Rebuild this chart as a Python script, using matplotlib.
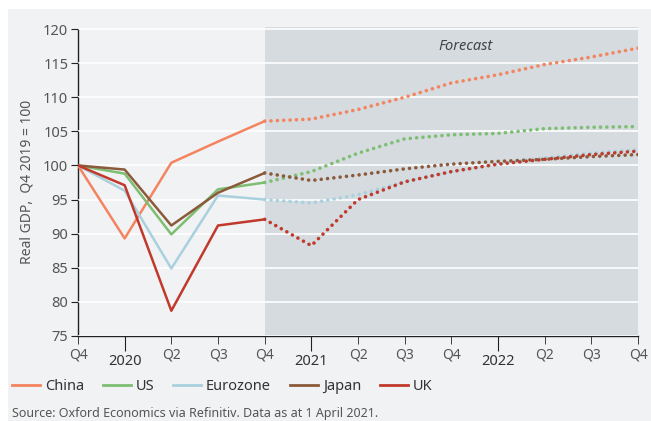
import numpy as np
import matplotlib.pyplot as plt
from matplotlib.patches import Rectangle
from matplotlib.lines import Line2D

plt.rcParams['font.family'] = ['Noto Sans', 'DejaVu Sans']

# trimestres de Q4 2019 a Q4 2022
trimestres = ['Q4', '2020', 'Q2', 'Q3', 'Q4', '2021', 'Q2', 'Q3', 'Q4', '2022', 'Q2', 'Q3', 'Q4']
n_real = 5  # Q4 2019 .. Q4 2020 observados, o resto previsão

china = [100, 89.3, 100.4, 103.5, 106.5, 106.8, 108.2, 110.0, 112.1, 113.3, 114.8, 115.9, 117.2]
us = [100, 98.8, 89.9, 96.5, 97.5, 99.1, 101.8, 103.9, 104.5, 104.7, 105.4, 105.6, 105.7]
eurozone = [100, 96.3, 84.9, 95.6, 95.0, 94.5, 95.7, 97.6, 99.1, 100.2, 101.1, 101.8, 102.3]
japan = [100, 99.4, 91.2, 96.0, 98.9, 97.8, 98.6, 99.5, 100.2, 100.6, 100.9, 101.3, 101.6]
uk = [100, 97.1, 78.7, 91.2, 92.1, 88.25, 95.0, 97.6, 99.1, 100.2, 100.9, 101.6, 102.1]

series = [
    ('China', china, '#f4845f'),
    ('US', us, '#7dbe72'),
    ('Eurozone', eurozone, '#a9d1dd'),
    ('Japan', japan, '#8a5a3b'),
    ('UK', uk, '#c0392b'),
]

fig = plt.figure(figsize=(6.51, 4.21), dpi=100, facecolor='white')
# painel cinza de fundo
fig.patches.append(Rectangle((8 / 651, 0), 1, 1 - 9 / 421, transform=fig.transFigure,
                             facecolor='#f1f2f4', edgecolor='none', zorder=-10))

ax = fig.add_axes([78 / 651, 1 - 336 / 421, 560 / 651, 309 / 421])
ax.set_facecolor('none')

x = np.arange(len(trimestres))
ax.axvspan(4, 12, color='#d5dbdf', zorder=0, lw=0)

for nome, valores, cor in series:
    ax.plot(x[:n_real], valores[:n_real], color=cor, lw=1.8, zorder=3)
    ax.plot(x[n_real - 1:], valores[n_real - 1:], color=cor, lw=2.6,
            linestyle=(0, (0.01, 1.75)), dash_capstyle='round', zorder=3)

ax.set_xlim(0, 12)
ax.set_ylim(75, 120.3)
ax.set_yticks(range(75, 121, 5))
ax.yaxis.grid(True, color='white', lw=1.2)
ax.set_axisbelow(False)
for linha in ax.yaxis.get_gridlines():
    linha.set_zorder(1)

for lado in ['top', 'right']:
    ax.spines[lado].set_visible(False)
ax.spines['left'].set_bounds(75, 120)
for lado in ['left', 'bottom']:
    ax.spines[lado].set_color('#222222')
    ax.spines[lado].set_linewidth(1.0)

# anos como ticks maiores, trimestres como menores
anos = [i for i, t in enumerate(trimestres) if t.isdigit()]
quartos = [i for i, t in enumerate(trimestres) if not t.isdigit()]
ax.set_xticks(anos)
ax.set_xticklabels([trimestres[i] for i in anos], fontweight='bold', fontsize=10.5, color='#333333')
ax.set_xticks(quartos, minor=True)
ax.set_xticklabels([trimestres[i] for i in quartos], minor=True, fontsize=10, color='#555555')
ax.tick_params(axis='x', which='major', length=11, pad=2, color='#222222')
ax.tick_params(axis='x', which='minor', length=6, pad=2, color='#222222')
ax.tick_params(axis='y', length=5, labelsize=10.5, labelcolor='#555555', color='#222222', pad=2)

ax.set_ylabel('Real GDP,  Q4 2019 = 100', fontsize=10, color='#555555', labelpad=6)

ax.text(8.31, 117.4, 'Forecast', style='italic', fontsize=10.5, color='#444444', ha='center', va='center')

handles = [Line2D([0], [0], color=c, lw=2) for _, _, c in series]
fig.legend(handles, [n for n, _, _ in series], loc='center left', bbox_to_anchor=(12 / 651, 1 - 387 / 421),
           ncol=5, frameon=False, fontsize=10.5, handlelength=1.9, columnspacing=1.3,
           handletextpad=0.35, borderpad=0, borderaxespad=0, labelcolor='#333333')

fig.text(12 / 651, 1 - 413 / 421, 'Source: Oxford Economics via Refinitiv. Data as at 1 April 2021.',
         fontsize=9, color='#555555', va='center')

fig.savefig('out.png', dpi=100, facecolor=fig.get_facecolor())
